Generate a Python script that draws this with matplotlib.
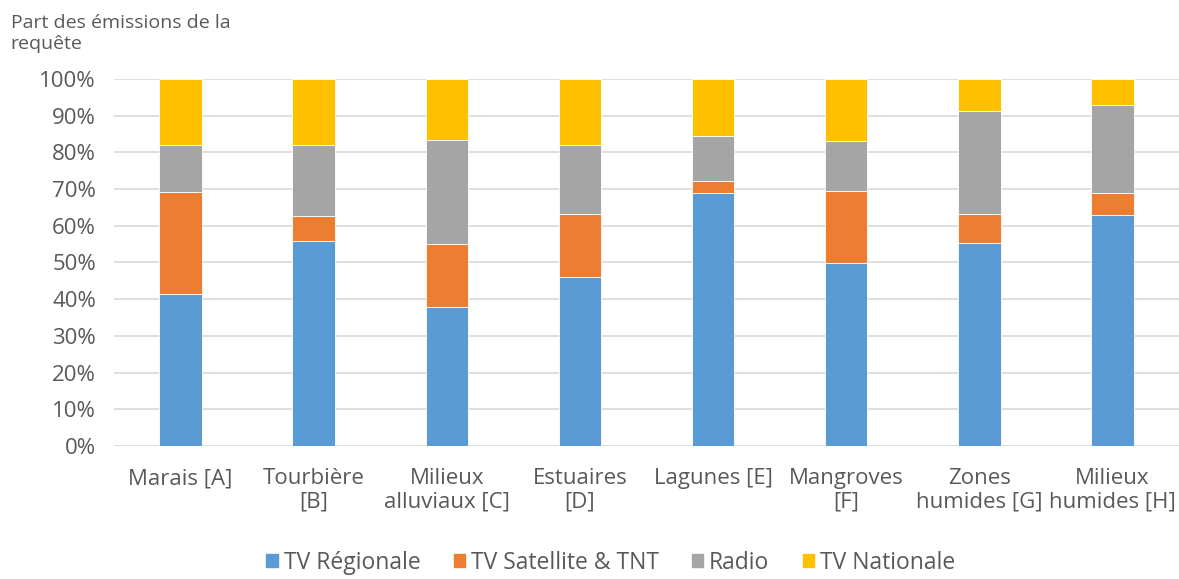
import matplotlib.pyplot as plt
from matplotlib import ticker
from matplotlib.patches import Patch
import numpy as np

plt.rcParams['font.family'] = ['Open Sans', 'DejaVu Sans']

categories = ['Marais [A]', 'Tourbière\n[B]', 'Milieux\nalluviaux [C]', 'Estuaires\n[D]',
              'Lagunes [E]', 'Mangroves\n[F]', 'Zones\nhumides [G]', 'Milieux\nhumides [H]']
# shares in %
tv_regionale = [41.4, 55.8, 37.9, 46.0, 68.9, 49.9, 55.3, 62.9]
tv_satellite = [27.7, 7.0, 17.1, 17.2, 3.3, 19.7, 7.9, 6.0]
radio = [13.0, 19.3, 28.3, 18.9, 12.2, 13.4, 28.1, 24.1]
tv_nationale = [17.9, 17.9, 16.7, 17.9, 15.6, 17.0, 8.7, 7.0]

series = [('TV Régionale', tv_regionale, '#5B9BD5'),
          ('TV Satellite & TNT', tv_satellite, '#ED7D31'),
          ('Radio', radio, '#A5A5A5'),
          ('TV Nationale', tv_nationale, '#FFC000')]

txtcol = '#595959'

fig = plt.figure(figsize=(11.79, 5.79), dpi=100)
ax = fig.add_axes([0.0967, 0.2297, 0.9033, 0.6339])

x = np.arange(len(categories))
bottom = np.zeros(len(categories))
for name, vals, col in series:
    ax.bar(x, vals, 0.32, bottom=bottom, color=col, edgecolor='white', linewidth=0.6,
           label=name, zorder=3)
    bottom += np.array(vals)

ax.set_xlim(-0.5, len(categories) - 0.5)
ax.set_ylim(0, 100)
ax.yaxis.set_major_locator(ticker.MultipleLocator(10))
ax.yaxis.set_major_formatter(ticker.FuncFormatter(lambda v, p: '%d%%' % v))
ax.grid(axis='y', color='#d9d9d9', linewidth=1.2, zorder=0)
for s in ax.spines.values():
    s.set_visible(False)
ax.tick_params(axis='both', length=0, colors=txtcol, labelsize=16)
ax.tick_params(axis='y', pad=13)
ax.tick_params(axis='x', pad=16)
ax.set_xticks(x)
ax.set_xticklabels(categories, linespacing=1.12)

fig.text(0.009, 0.975, 'Part des émissions de la\nrequête', color=txtcol, fontsize=14,
         va='top', ha='left', linespacing=1.15)

handles = [Patch(color=col, label=name) for name, vals, col in series]
fig.legend(handles=handles, loc='lower center', ncol=4, frameon=False, fontsize=16.5,
           bbox_to_anchor=(0.518, -0.028), handlelength=0.5, handleheight=0.5,
           columnspacing=1.45, handletextpad=0.25, labelcolor=txtcol)

fig.savefig('out.png', dpi=100)
